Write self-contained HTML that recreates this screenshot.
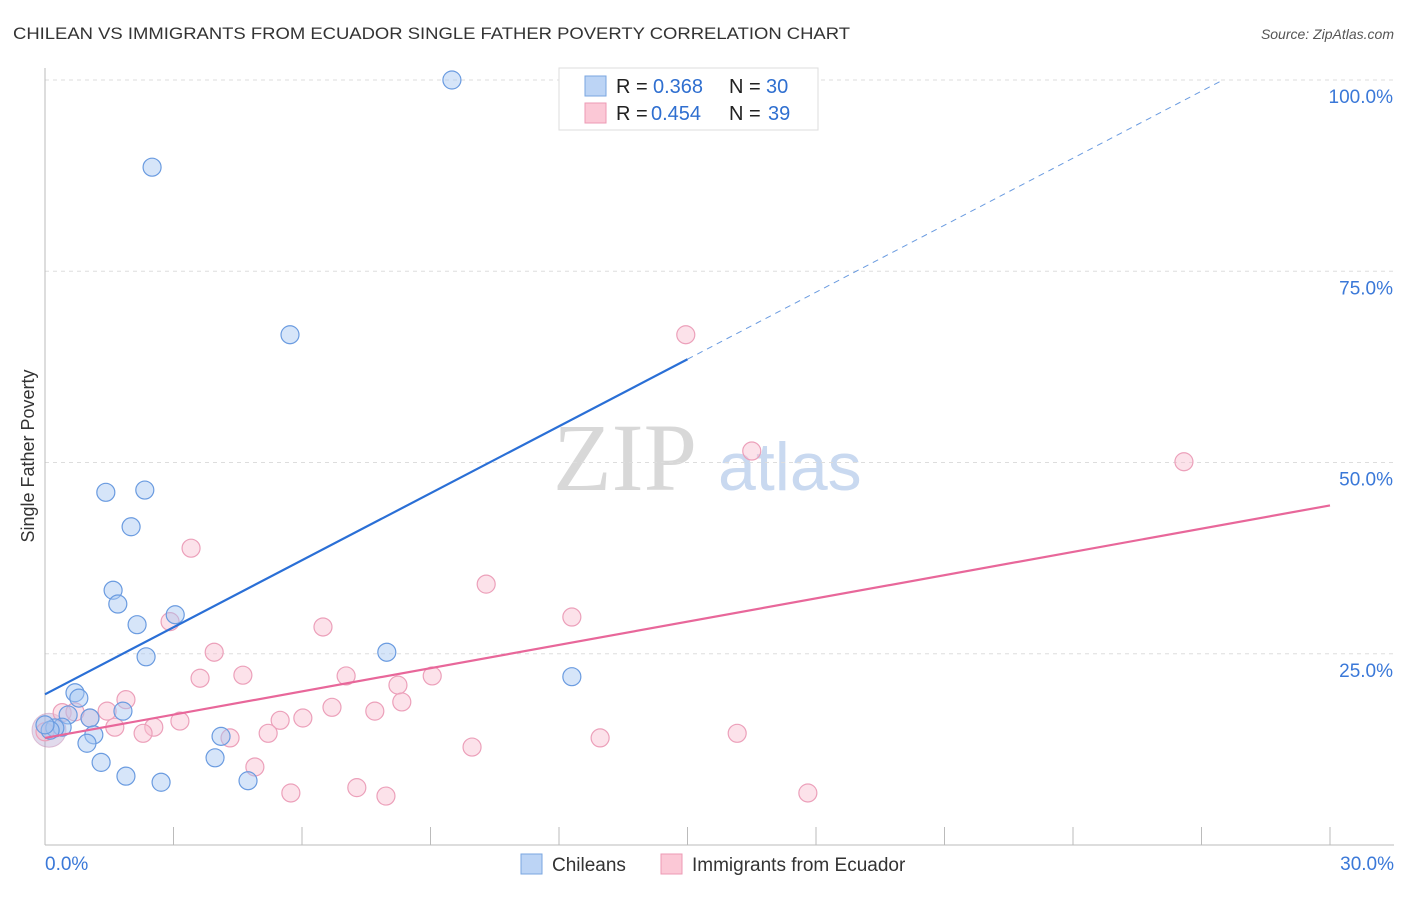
<!DOCTYPE html>
<html><head><meta charset="utf-8"><style>
body{margin:0;background:#fff}
</style></head><body>
<svg width="1406" height="892" viewBox="0 0 1406 892" font-family="Liberation Sans, sans-serif">
<text x="13" y="39" font-size="17" fill="#333" textLength="837" lengthAdjust="spacingAndGlyphs">CHILEAN VS IMMIGRANTS FROM ECUADOR SINGLE FATHER POVERTY CORRELATION CHART</text>
<text x="1394" y="39" font-size="14" fill="#555" font-style="italic" text-anchor="end">Source: ZipAtlas.com</text>
<g>
<text x="553" y="490" font-size="96" fill="#d8d8d8" style="font-family:'Liberation Serif',serif">ZIP</text>
<text x="718" y="490" font-size="68" fill="#c9d9f0">atlas</text>
</g>
<g id="grid"></g>
<g id="axes"></g>
<g id="marks"></g>
<text transform="translate(34,456) rotate(-90)" font-size="18" fill="#333" text-anchor="middle">Single Father Poverty</text>
<g>
<rect x="559" y="68" width="259" height="62" fill="#fff" stroke="#ddd"/>
<rect x="585" y="76" width="21" height="20" fill="#bcd4f5" stroke="#7aa6e0"/>
<rect x="585" y="103" width="21" height="20" fill="#fbc8d6" stroke="#ec9ab4"/>
<text x="616" y="93" font-size="20" fill="#222">R =</text>
<text x="653" y="93" font-size="20" fill="#2f6fd0">0.368</text>
<text x="729" y="93" font-size="20" fill="#222">N =</text>
<text x="766" y="93" font-size="20" fill="#2f6fd0">30</text>
<text x="616" y="120" font-size="20" fill="#222">R =</text>
<text x="651" y="120" font-size="20" fill="#2f6fd0">0.454</text>
<text x="729" y="120" font-size="20" fill="#222">N =</text>
<text x="768" y="120" font-size="20" fill="#2f6fd0">39</text>
</g>
<g>
<rect x="521" y="854" width="21" height="20" fill="#bcd4f5" stroke="#7aa6e0"/>
<text x="552" y="871" font-size="19" fill="#333">Chileans</text>
<rect x="661" y="854" width="21" height="20" fill="#fbc8d6" stroke="#ec9ab4"/>
<text x="692" y="871" font-size="19" fill="#333">Immigrants from Ecuador</text>
</g>
</svg>
<script>
const blueX=[9.50,2.50,5.72,1.42,2.33,2.01,1.59,1.70,3.04,2.15,2.36,7.98,12.30,0.70,0.79,1.82,1.05,0.54,0.40,1.14,0.23,0.98,0.12,4.11,1.31,1.89,3.97,2.71,4.74,0.0];
const blueY=[100.0,88.6,66.7,46.1,46.4,41.6,33.3,31.5,30.1,28.8,24.6,25.2,22.0,19.9,19.2,17.5,16.6,17.0,15.4,14.4,15.3,13.3,15.0,14.2,10.8,9.0,11.4,8.2,8.4,15.7];
const pinkX=[14.96,16.50,26.59,3.41,10.30,12.30,2.92,6.49,3.95,3.62,4.62,7.03,9.04,1.89,8.24,8.33,6.70,7.70,6.02,5.49,3.15,2.54,1.63,1.45,1.05,0.40,0.70,2.29,4.32,5.21,12.96,16.16,9.97,4.90,5.74,7.28,7.96,17.81,0.0];
const pinkY=[66.7,51.5,50.1,38.8,34.1,29.8,29.2,28.5,25.2,21.8,22.2,22.1,22.1,19.0,20.9,18.7,18.0,17.5,16.6,16.3,16.2,15.4,15.4,17.5,16.6,17.3,17.4,14.6,14.0,14.6,14.0,14.6,12.8,10.2,6.8,7.5,6.4,6.8,14.8];
const blueLine=[19.7,2.92];   // intercept, slope
const pinkLine=[14.0,1.013];
const yTicks=[25,50,75,100];
const yTickLabels=["25.0%","50.0%","75.0%","100.0%"];
const xTickLabels=["0.0%","30.0%"];
const NS="http://www.w3.org/2000/svg";
const X0=45,X1=1330,Y0=845,YS=7.65;
const sx=v=>X0+v*(X1-X0)/30, sy=v=>Y0-v*YS;
function mk(tag,attrs,parent){const e=document.createElementNS(NS,tag);for(const k in attrs)e.setAttribute(k,attrs[k]);parent.appendChild(e);return e;}
const grid=document.getElementById('grid'),axes=document.getElementById('axes'),marks=document.getElementById('marks');
yTicks.forEach((t,i)=>{
 const l=mk('line',{x1:X0,x2:1394,y1:sy(t),y2:sy(t),stroke:'#ddd','stroke-dasharray':'4,4'},grid);
 
 
 const tx=mk('text',{x:1393,y:sy(t)+23,'font-size':19,fill:'#3a78d8','text-anchor':'end'},axes);
 tx.textContent=yTickLabels[i];
 
 
});
mk('line',{x1:X0,x2:X0,y1:68,y2:Y0,stroke:'#bbb'},axes);
mk('line',{x1:X0,x2:1394,y1:Y0,y2:Y0,stroke:'#bbb'},axes);
for(let i=1;i<=10;i++){const x=sx(i*3);mk('line',{x1:x,x2:x,y1:827,y2:Y0,stroke:'#bbb'},axes);}
[[0,'start',45],[30,'end',1394]].forEach((d,i)=>{
 const tx=mk('text',{x:d[2],y:870,'font-size':19,fill:'#3a78d8','text-anchor':d[1]},axes);
 tx.textContent=xTickLabels[i];
 
 
});
mk('circle',{cx:sx(0)+4,cy:sy(15),r:17,fill:'rgba(170,150,200,0.35)',stroke:'rgba(200,140,180,0.5)'},marks);
pinkX.forEach((x,i)=>{
 const c=mk('circle',{cx:sx(x),cy:sy(pinkY[i]),r:9,fill:'rgba(248,190,208,0.45)',stroke:'#eca0ba','stroke-width':1.2},marks);
 
 
});
blueX.forEach((x,i)=>{
 const c=mk('circle',{cx:sx(x),cy:sy(blueY[i]),r:9,fill:'rgba(165,198,242,0.45)',stroke:'#6a9be0','stroke-width':1.2},marks);
 
 
});
const bEnd=15, bDashEnd=(100-blueLine[0])/blueLine[1];
let l=mk('line',{x1:sx(0),y1:sy(blueLine[0]),x2:sx(bEnd),y2:sy(blueLine[0]+blueLine[1]*bEnd),stroke:'#2a6fd6','stroke-width':2.2},marks);


l=mk('line',{x1:sx(bEnd),y1:sy(blueLine[0]+blueLine[1]*bEnd),x2:sx(bDashEnd),y2:sy(100),stroke:'#6a9be0','stroke-width':1,'stroke-dasharray':'6,5'},marks);


l=mk('line',{x1:sx(0),y1:sy(pinkLine[0]),x2:sx(30),y2:sy(pinkLine[0]+pinkLine[1]*30),stroke:'#e8679a','stroke-width':2.2},marks);


</script>
</body></html>
